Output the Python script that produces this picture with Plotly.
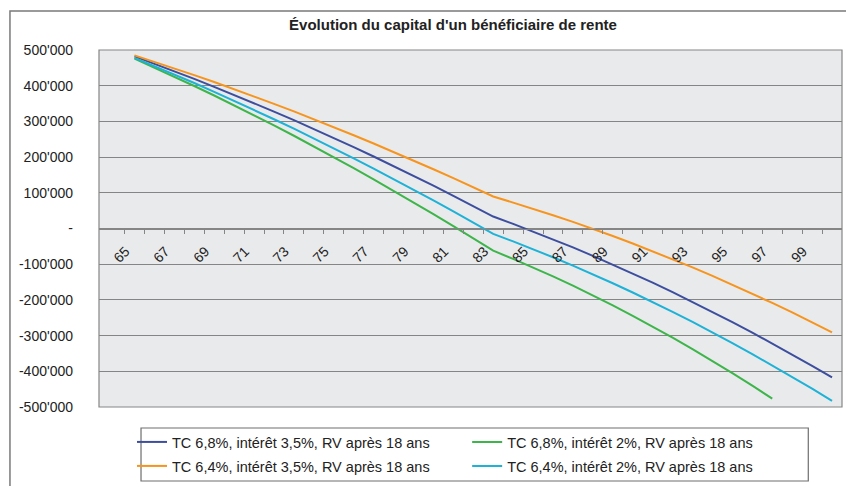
import plotly.graph_objects as go

# ---------------- data ----------------
ages = list(range(65, 101))

tc68_i35 = [482000, 461500, 440500, 419000, 396900, 374300, 351200, 327600, 303500, 278800,
            253600, 227900, 201700, 175000, 147700, 119900, 91600, 62800, 33500,
            13000, -8300, -30300, -53000, -76500, -100800, -125800, -151500, -178000,
            -205300, -233300, -262000, -291500, -321800, -352800, -384500, -417000]
tc68_i2 = [476000, 451000, 425400, 399200, 372500, 345200, 317300, 288800, 259800, 230200,
           200000, 169200, 137900, 106000, 73500, 40400, 6800, -27400, -62200,
           -85200, -109200, -134200, -160200, -187300, -215400, -244500, -274600, -305700,
           -337800, -371000, -405200, -440400, -476600, None, None, None]
tc64_i35 = [485000, 467000, 448500, 429600, 410200, 390300, 370000, 349200, 327900, 306200,
            284000, 261300, 238200, 214600, 190500, 166000, 141000, 115600, 89700,
            72500, 55300, 37300, 18600, -800, -21000, -41900, -63500, -85800,
            -108900, -132700, -157200, -182500, -208500, -235200, -262700, -290900]
tc64_i2 = [478000, 455000, 431500, 407500, 382900, 357800, 332200, 306100, 279500, 252400,
           224700, 196500, 167800, 138600, 108900, 78700, 47900, 16600, -15200,
           -36200, -58000, -80600, -104000, -128300, -153400, -179300, -206000, -233500,
           -261800, -290900, -320800, -351600, -383200, -415600, -448800, -482800]

series_names = ["TC 6,8%, intérêt 3,5%, RV après 18 ans",
                "TC 6,8%, intérêt 2%, RV après 18 ans",
                "TC 6,4%, intérêt 3,5%, RV après 18 ans",
                "TC 6,4%, intérêt 2%, RV après 18 ans"]

x_tick_ages = list(range(65, 101, 2))
x_tick_labels = [str(a) for a in x_tick_ages]
x_boundaries = [a - 0.5 for a in range(65, 101)]

y_tickvals = [500000, 400000, 300000, 200000, 100000, 0,
              -100000, -200000, -300000, -400000, -500000]
y_ticktext = ["500'000", "400'000", "300'000", "200'000", "100'000", "-",
              "-100'000", "-200'000", "-300'000", "-400'000", "-500'000"]

title_text = "Évolution du capital d'un bénéficiaire de rente"

# ---------------- styling ----------------
FONT = "Liberation Sans, Arial, sans-serif"
GRID = "#858585"
colors = ["#3D4E9E", "#3DB54A", "#F7941D", "#1DB2D6"]

W, H = 846, 486
L, R, T, B = 99, 4.3, 50, 79
pw, ph = W - L - R, H - T - B


def px2x(px):
    return (px - L) / pw


def px2y(py):
    return (H - B - py) / ph


fig = go.Figure()
data_series = [tc68_i35, tc68_i2, tc64_i35, tc64_i2]
legend_ids = ["legend", "legend2", "legend3", "legend4"]
for vals, name, col, lg in zip(data_series, series_names, colors, legend_ids):
    fig.add_trace(go.Scatter(x=ages, y=vals, name=name, mode="lines",
                             line=dict(color=col, width=2), legend=lg,
                             showlegend=True))

# legend slots: (left px, center y px)
legend_slots = [(132, 442), (467, 442), (132, 466), (467, 466)]
legend_layout = {}
for lg, (lx, ly) in zip(legend_ids, legend_slots):
    legend_layout[lg] = dict(orientation="h", x=px2x(lx), xanchor="left",
                             y=px2y(ly), yanchor="middle",
                             bgcolor="rgba(0,0,0,0)", borderwidth=0, visible=True,
                             font=dict(size=14.5, color="#222222"))

fig.update_layout(
    width=W, height=H,
    showlegend=True,
    margin=dict(l=L, r=R, t=T, b=B, pad=0, autoexpand=False),
    paper_bgcolor="white",
    plot_bgcolor="#E9EAEC",
    font=dict(family=FONT, size=14, color="#222222"),
    title=dict(text=title_text, x=453 / W, xref="container", xanchor="center",
               y=1 - 25 / H, yref="container", yanchor="middle",
               font=dict(family=FONT, size=15, color="#222222", weight="bold")),
    xaxis=dict(type="linear", range=[63.22, 100.5], anchor="free", position=0.5,
               showgrid=False, zeroline=False,
               showline=True, linecolor=GRID, linewidth=1.3,
               tickmode="array", tickvals=x_tick_ages, ticktext=x_tick_labels,
               ticks="", tickangle=-45, ticklabelstandoff=8, ticklabelshift=-9,
               tickfont=dict(size=14),
               minor=dict(tickmode="array", tickvals=x_boundaries, ticks="outside",
                          ticklen=4, tickcolor=GRID, tickwidth=1, showgrid=False)),
    yaxis=dict(range=[-500000, 500000], showgrid=True, gridcolor=GRID, gridwidth=1,
               zeroline=False, showline=False,
               tickmode="array", tickvals=y_tickvals, ticktext=y_ticktext,
               ticks="", ticklabelstandoff=25, tickfont=dict(size=14)),
    shapes=[
        # plot area border
        dict(type="rect", xref="paper", yref="paper", x0=0, x1=1, y0=0, y1=1,
             line=dict(color=GRID, width=1.2), layer="above"),
        # legend box
        dict(type="rect", xref="paper", yref="paper",
             x0=px2x(141), x1=px2x(808), y0=px2y(481), y1=px2y(428),
             line=dict(color="#6E6E6E", width=1.2)),
        # outer chart frame
        dict(type="rect", xref="paper", yref="paper",
             x0=px2x(10), x1=px2x(900), y0=px2y(540), y1=px2y(11),
             line=dict(color="#7A7A7A", width=1.5)),
    ],
    **legend_layout,
)

# remove the default 8px page margin so the figure sits at the window origin
fig.write_html("out.html", config={"displayModeBar": False},
               post_script="document.body.style.margin='0';")
